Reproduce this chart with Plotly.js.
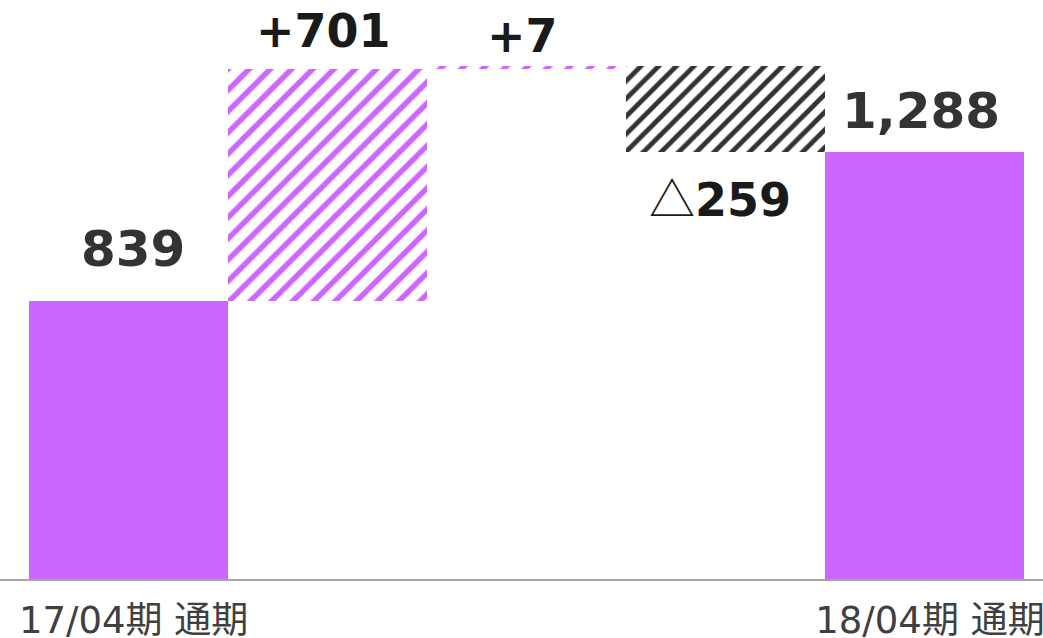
<!DOCTYPE html>
<html>
<head>
<meta charset="utf-8">
<script src="https://cdn.plot.ly/plotly-3.0.1.min.js"></script>
<style>html,body{margin:0;padding:0;background:#fff;}#chart{width:1043px;height:638px;}</style>
</head>
<body>
<div id="chart"></div>
<script>
// Data
const categories = ["17/04期 通期", "", "", "", "18/04期 通期"];
const kinds = ["total", "increase", "increase", "decrease", "total"];
const values = [839, 701, 7, -259, 1288];
const valueLabels = ["839", "+701", "+7", "△259", "1,288"];

const xs = categories.map((c, i) => i);

// derive bar bases from the running sum
const bases = [], heights = [];
let running = 0;
values.forEach((v, i) => {
  if (kinds[i] === "total") { bases.push(0); heights.push(v); running = v; }
  else if (v >= 0) { bases.push(running); heights.push(v); running += v; }
  else { running += v; bases.push(running); heights.push(-v); }
});

const pick = (k) => xs.filter(i => kinds[i] === k);

const purple = "#CC66FF";
const traces = [
  {
    type: "bar", x: pick("total"), y: pick("total").map(i => heights[i]), base: pick("total").map(i => bases[i]),
    marker: {color: purple, line: {width: 0}}, width: 1, hoverinfo: "skip"
  },
  {
    type: "bar", x: pick("increase"), y: pick("increase").map(i => heights[i]), base: pick("increase").map(i => bases[i]),
    marker: {color: "#ffffff", line: {width: 0}, pattern: {shape: "/", fgcolor: purple, bgcolor: "#ffffff", size: 15, solidity: 0.37}},
    width: 1, hoverinfo: "skip"
  },
  {
    type: "bar", x: pick("decrease"), y: pick("decrease").map(i => heights[i]), base: pick("decrease").map(i => bases[i]),
    marker: {color: "#ffffff", line: {width: 0}, pattern: {shape: "/", fgcolor: "#333333", bgcolor: "#ffffff", size: 12.5, solidity: 0.38}},
    width: 1, hoverinfo: "skip"
  }
];

const fmt = (s) => s.replace("△", "<span style=\"font-weight:normal;font-family:'Noto Sans CJK JP'\">△</span>");

const annotations = xs.map(i => {
  const top = bases[i] + heights[i];
  const isTotal = kinds[i] === "total";
  const isDec = kinds[i] === "decrease";
  let shift;
  if (isTotal) shift = (i === 0 ? 52 : 41);
  else if (isDec) shift = -44;
  else shift = (i === 1 ? 38 : 30);
  return {
    x: i, y: isDec ? bases[i] : top, xref: "x", yref: "y",
    text: fmt(valueLabels[i]), showarrow: false, yanchor: "middle", xanchor: "center",
    yshift: shift, xshift: isDec ? -6 : (i === 0 ? 4 : -4),
    font: {family: "DejaVu Sans, Noto Sans CJK JP, sans-serif", size: isTotal ? 50 : 46, color: isTotal ? "#333333" : "#1a1a1a", weight: "bold"}
  };
});

const layout = {
  width: 1043, height: 638,
  margin: {l: 0, r: 0, t: 0, b: 59, pad: 0},
  paper_bgcolor: "#ffffff", plot_bgcolor: "#ffffff",
  showlegend: false, barmode: "overlay", bargap: 0,
  xaxis: {
    range: [-0.646, 4.593], tickmode: "array", tickvals: xs, ticktext: categories,
    showgrid: false, zeroline: false, showline: true, linecolor: "#A6A6A6", linewidth: 2,
    ticks: "", ticklabelstandoff: 8, ticklabelshift: 5, ticklabeloverflow: "allow",
    tickfont: {family: "DejaVu Sans, Noto Sans CJK JP, sans-serif", size: 37, color: "#404040"},
    fixedrange: true
  },
  yaxis: {range: [0, 1747], visible: false, showgrid: false, zeroline: false, fixedrange: true},
  annotations: annotations
};

Plotly.newPlot("chart", traces, layout, {displayModeBar: false, staticPlot: true});
</script>
</body>
</html>
